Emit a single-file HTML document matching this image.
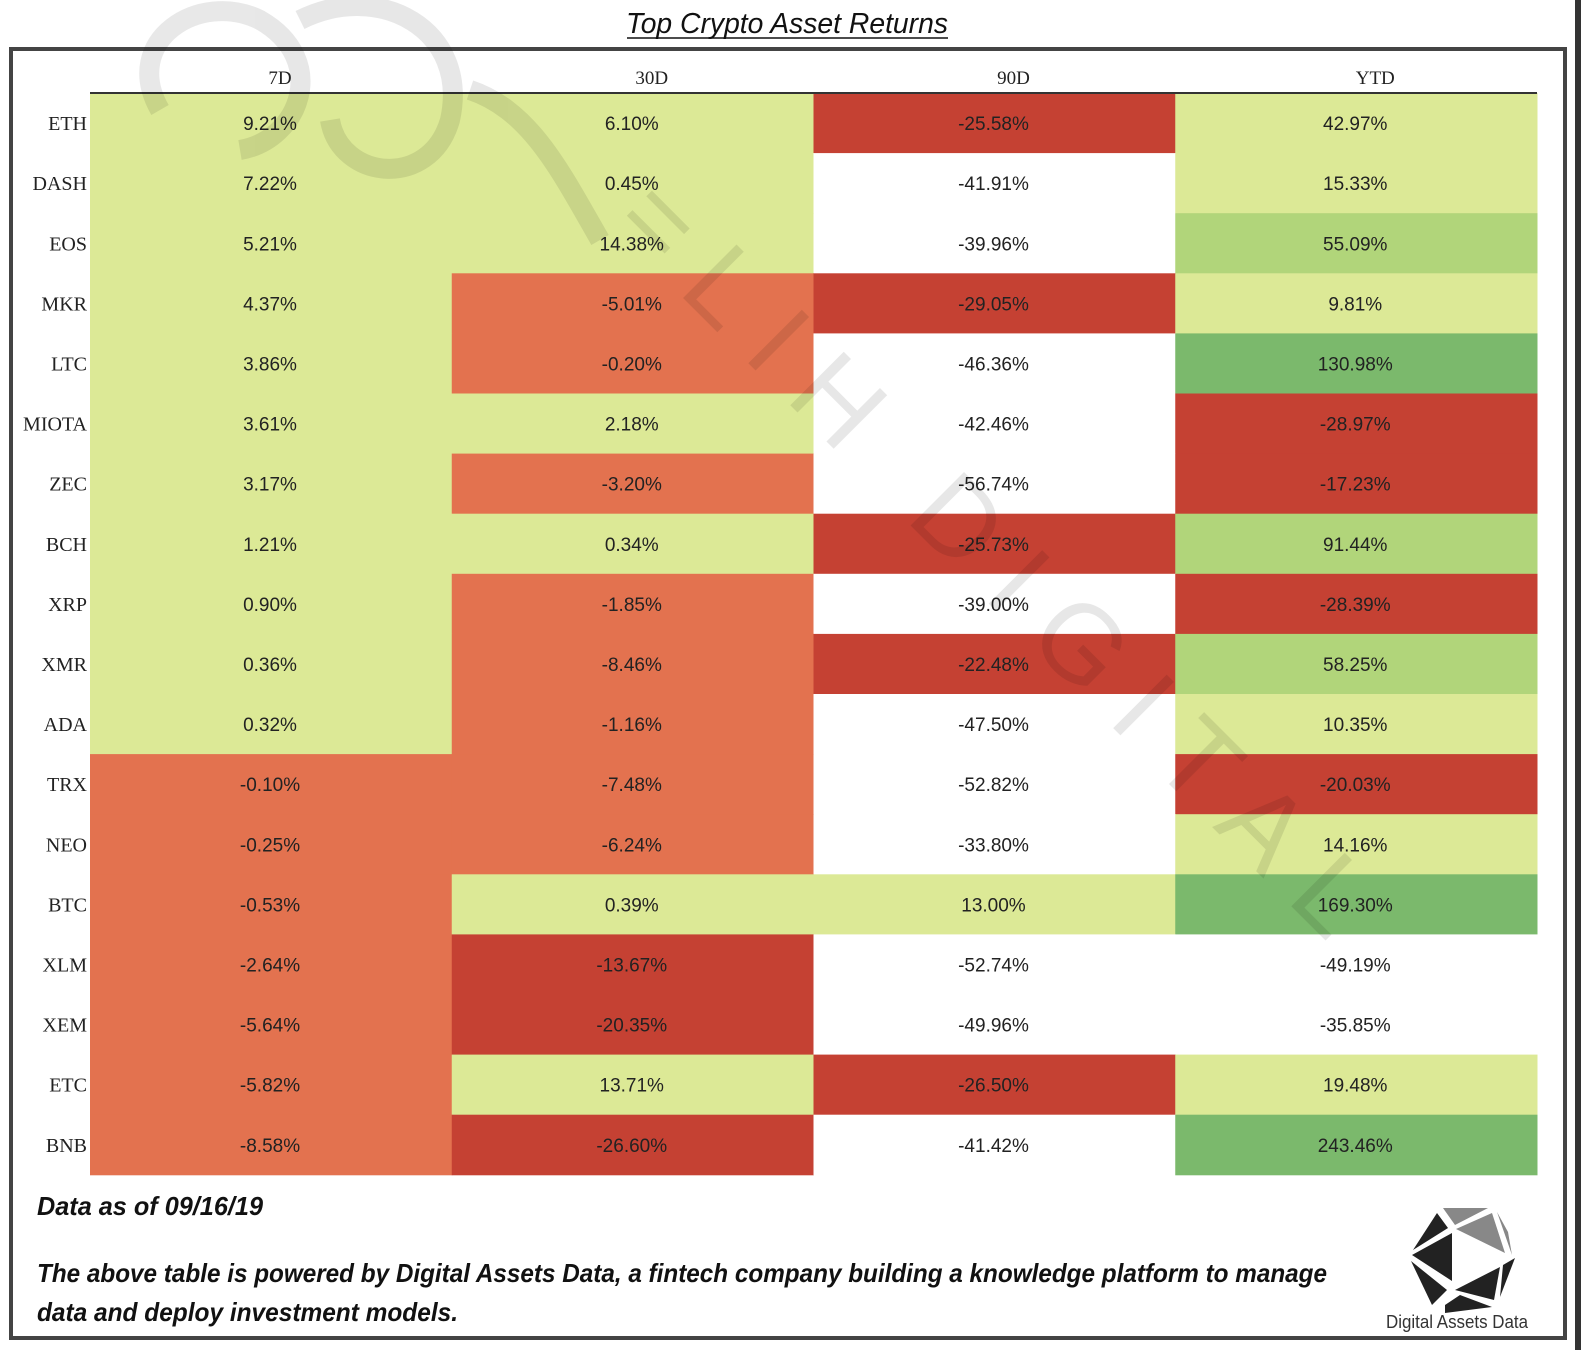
<!DOCTYPE html>
<html><head><meta charset="utf-8"><style>
html,body{margin:0;padding:0;background:#fff;}
svg{display:block;}
</style></head><body>
<svg id="chart" width="1581" height="1350" viewBox="0 0 1581 1350" xmlns="http://www.w3.org/2000/svg">
  <rect x="0" y="0" width="1581" height="1350" fill="#fff"/>
  <rect x="1575" y="0" width="6" height="1350" fill="#333"/>
  <text x="787" y="33" text-anchor="middle" font-family="Liberation Sans, sans-serif" font-style="italic" font-size="29" fill="#111" textLength="322" lengthAdjust="spacingAndGlyphs">Top Crypto Asset Returns</text>
  <line x1="627" y1="38" x2="948" y2="38" stroke="#111" stroke-width="1.5"/>
  <rect x="11" y="49" width="1554" height="1289" fill="none" stroke="#444" stroke-width="4"/>
  <g id="cells"></g>
  <line x1="90" y1="93" x2="1537" y2="93" stroke="#333" stroke-width="2"/>
  <g id="labels"></g>
  <g opacity="0.09" fill="none" stroke="#000" stroke-width="20">
    <path d="M160,110 C120,40 200,-10 260,20 C330,60 300,140 240,150"/>
    <path d="M300,20 C380,-20 470,30 450,120 C430,190 340,180 330,120"/>
    <path d="M470,90 C530,110 560,170 600,240"/>
  </g>
  <text x="0" y="0" transform="translate(610,225) rotate(45)" font-family="Liberation Sans, sans-serif" font-size="110" fill="#000" opacity="0.09" letter-spacing="30">=LIH DIGITAL</text>
  <text x="37" y="1215" font-family="Liberation Sans, sans-serif" font-weight="bold" font-style="italic" font-size="26" fill="#111" textLength="226" lengthAdjust="spacingAndGlyphs">Data as of 09/16/19</text>
  <text x="37" y="1282" font-family="Liberation Sans, sans-serif" font-weight="bold" font-style="italic" font-size="26" fill="#111" textLength="1290" lengthAdjust="spacingAndGlyphs">The above table is powered by Digital Assets Data, a fintech company building a knowledge platform to manage</text>
  <text x="37" y="1321" font-family="Liberation Sans, sans-serif" font-weight="bold" font-style="italic" font-size="26" fill="#111" textLength="421" lengthAdjust="spacingAndGlyphs">data and deploy investment models.</text>
  <g>
    <polygon points="1443,1208 1488,1208 1455,1225" fill="#888"/>
    <polygon points="1456,1229 1492,1213 1505,1253" fill="#888"/>
    <polygon points="1497,1212 1508,1232 1512,1255" fill="#888"/>
    <polygon points="1437,1213 1448,1228 1413,1250" fill="#222"/>
    <polygon points="1452,1233 1412,1255 1452,1281" fill="#222"/>
    <polygon points="1411,1261 1447,1290 1432,1305" fill="#222"/>
    <polygon points="1455,1290 1500,1267 1494,1300" fill="#222"/>
    <polygon points="1503,1265 1515,1258 1500,1297" fill="#222"/>
    <polygon points="1445,1305 1460,1295 1492,1307 1445,1313" fill="#222"/>
    <text x="1457" y="1328" text-anchor="middle" font-family="Liberation Sans, sans-serif" font-size="18" fill="#333" textLength="142" lengthAdjust="spacingAndGlyphs">Digital Assets Data</text>
  </g>
</svg>
<script>
const assets = ["ETH","DASH","EOS","MKR","LTC","MIOTA","ZEC","BCH","XRP","XMR","ADA","TRX","NEO","BTC","XLM","XEM","ETC","BNB"];
const periods = ["7D","30D","90D","YTD"];
const ret7d = [9.21,7.22,5.21,4.37,3.86,3.61,3.17,1.21,0.90,0.36,0.32,-0.10,-0.25,-0.53,-2.64,-5.64,-5.82,-8.58];
const ret30d = [6.10,0.45,14.38,-5.01,-0.20,2.18,-3.20,0.34,-1.85,-8.46,-1.16,-7.48,-6.24,0.39,-13.67,-20.35,13.71,-26.60];
const ret90d = [-25.58,-41.91,-39.96,-29.05,-46.36,-42.46,-56.74,-25.73,-39.00,-22.48,-47.50,-52.82,-33.80,13.00,-52.74,-49.96,-26.50,-41.42];
const retYtd = [42.97,15.33,55.09,9.81,130.98,-28.97,-17.23,91.44,-28.39,58.25,10.35,-20.03,14.16,169.30,-49.19,-35.85,19.48,243.46];
const cls7d = ["L","L","L","L","L","L","L","L","L","L","L","O","O","O","O","O","O","O"];
const cls30d = ["L","L","L","O","O","L","O","L","O","O","O","O","O","L","R","R","L","R"];
const cls90d = ["R","W","W","R","W","W","W","R","W","R","W","W","W","L","W","W","R","W"];
const clsYtd = ["L","L","M","L","G","R","R","M","R","M","L","R","L","G","W","W","L","G"];

const series = [ret7d, ret30d, ret90d, retYtd];
const classes = [cls7d, cls30d, cls90d, clsYtd];
const palette = {L:"#dce996", M:"#b1d57a", G:"#7bb96c", O:"#e3724f", R:"#c54133", W:"#ffffff"};
const NS = "http://www.w3.org/2000/svg";
const x0 = 90, colW = 361.75, y0 = 93, rowH = 60.1;
const colX = i => x0 + i * colW;
const rowY = j => y0 + j * rowH;

const cells = document.getElementById('cells');
const labels = document.getElementById('labels');

periods.forEach((p, i) => {
  const t = document.createElementNS(NS, 'text');
  t.setAttribute('x', colX(i) + (i === 0 ? 190 : 200));
  t.setAttribute('y', 84);
  t.setAttribute('text-anchor', 'middle');
  t.setAttribute('font-family', 'Liberation Serif, serif');
  t.setAttribute('font-size', '19');
  t.setAttribute('fill', '#222');
  t.textContent = p;
  
  
  labels.appendChild(t);
});

assets.forEach((a, j) => {
  const t = document.createElementNS(NS, 'text');
  t.setAttribute('x', 87);
  t.setAttribute('y', rowY(j) + rowH / 2 + 7);
  t.setAttribute('text-anchor', 'end');
  t.setAttribute('font-family', 'Liberation Serif, serif');
  t.setAttribute('font-size', '20');
  t.setAttribute('fill', '#222');
  t.textContent = a;
  
  
  labels.appendChild(t);

  series.forEach((vals, i) => {
    const r = document.createElementNS(NS, 'rect');
    r.setAttribute('x', colX(i));
    r.setAttribute('y', rowY(j));
    r.setAttribute('width', colW + 0.5);
    r.setAttribute('height', rowH + 0.5);
    r.setAttribute('fill', palette[classes[i][j]]);
    
    
    cells.appendChild(r);

    const v = document.createElementNS(NS, 'text');
    v.setAttribute('x', colX(i) + 180);
    v.setAttribute('y', rowY(j) + rowH / 2 + 7);
    v.setAttribute('text-anchor', 'middle');
    v.setAttribute('font-family', 'Liberation Sans, sans-serif');
    v.setAttribute('font-size', '19');
    v.setAttribute('fill', '#222');
    v.textContent = vals[j].toFixed(2) + '%';
    
    
    labels.appendChild(v);
  });
});
</script>
</body></html>
